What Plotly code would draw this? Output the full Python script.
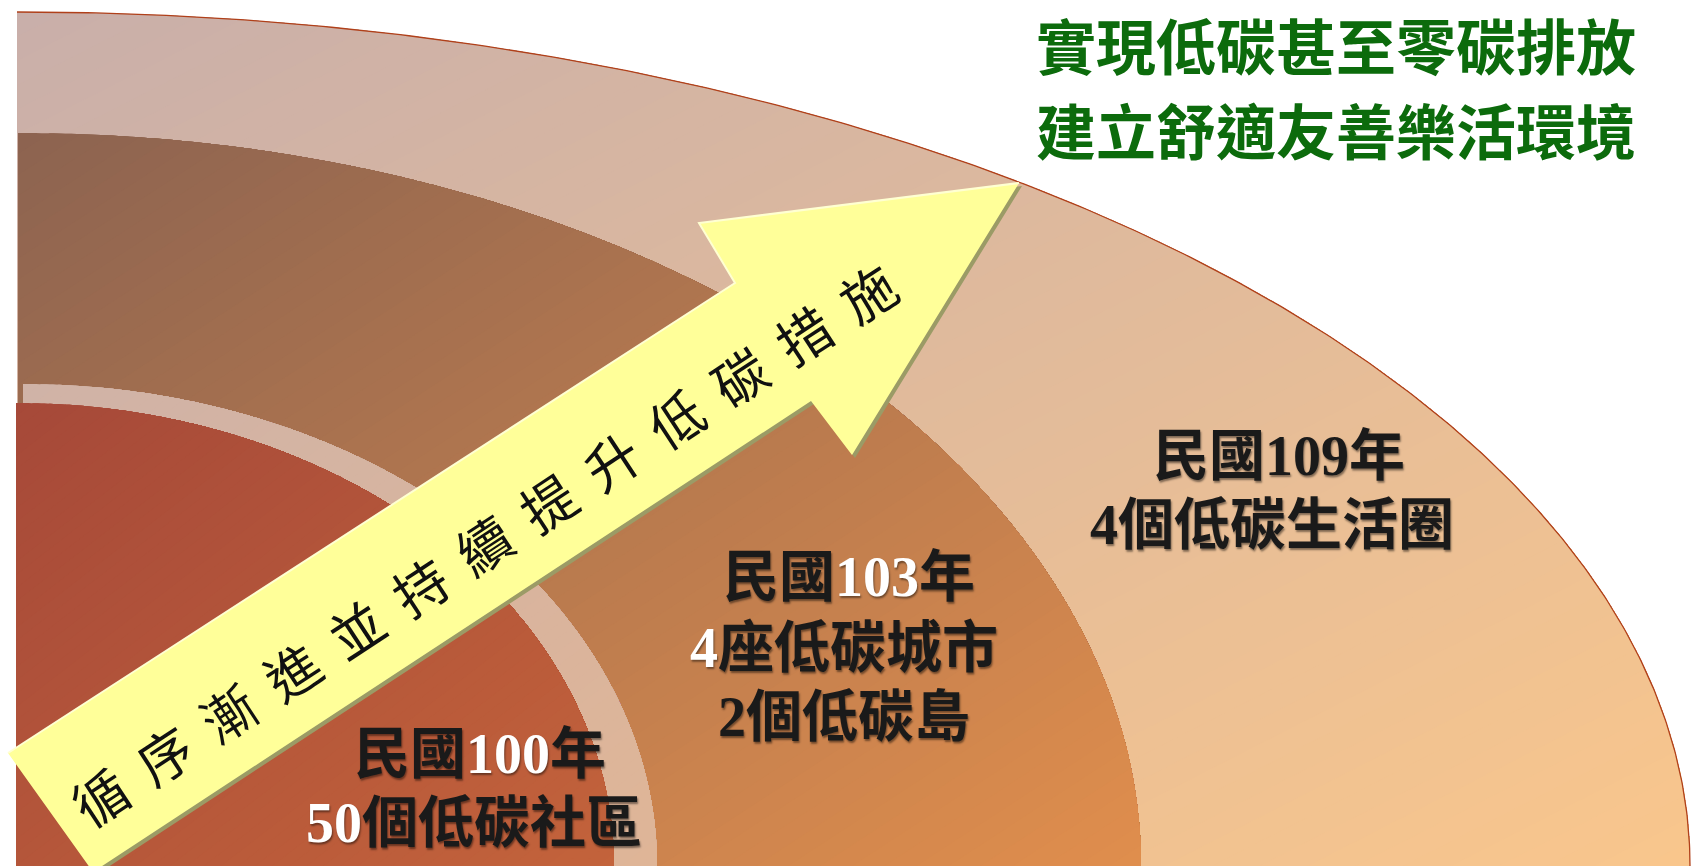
import numpy as np
import plotly.graph_objects as go

# ---------------- data ----------------
stage_years = ["100", "103", "109"]
stage_line1 = ["民國<span style='color:#ffffff'>100</span>年",
               "民國<span style='color:#ffffff'>103</span>年",
               "民國109年"]
stage_line2 = ["<span style='color:#ffffff'>50</span>個低碳社區",
               "<span style='color:#ffffff'>4</span>座低碳城市",
               "4個低碳生活圈"]
stage_line3 = ["", "2個低碳島", ""]
arrow_text = "循序漸進並持續提升低碳措施"
goal_lines = ["實現低碳甚至零碳排放", "建立舒適友善樂活環境"]

# ring geometry / colours (layout & style)
ring_cx = [17, 18, 23, 16]
ring_a = [1673, 1123, 634, 598]
ring_b = [854, 733, 482, 463]
ring_c0 = ["#c9afaa", "#8c6350", "#d0b3a7", "#a64939"]
ring_c1 = ["#f9c68c", "#e08e4d", "#dfb597", "#c3633b"]

W, H = 1692, 866
BASE = 866
fig = go.Figure()


def hex2rgb(h):
    h = h.lstrip("#")
    return np.array([int(h[i:i + 2], 16) for i in (0, 2, 4)], dtype=float)


def clip(poly, f):
    out = []
    n = len(poly)
    for i in range(n):
        P, Q = poly[i], poly[(i + 1) % n]
        fp, fq = f(P), f(Q)
        if fp >= 0:
            out.append(P)
        if (fp >= 0) != (fq >= 0):
            s = fp / (fp - fq)
            out.append(P + s * (Q - P))
    return out


N = 70
for cx, a, b, c0, c1 in zip(ring_cx, ring_a, ring_b, ring_c0, ring_c1):
    th = np.linspace(np.pi / 2, 0, 300)
    pts = [np.array([cx + a * np.cos(t), BASE - b * np.sin(t)]) for t in th]
    pts += [np.array([cx + a, BASE + 20.0]), np.array([cx, BASE + 20.0])]
    x0, y0 = cx, BASE - b
    rgb0, rgb1 = hex2rgb(c0), hex2rgb(c1)
    for k in range(N):
        tk = k / N
        f = lambda p, tk=tk: ((p[0] - x0) / a + (p[1] - y0) / b) / 2 - tk
        poly = pts if k == 0 else clip(pts, f)
        if len(poly) < 3:
            continue
        tm = min(1.0, tk + 0.5 / N)
        col = rgb0 + (rgb1 - rgb0) * tm
        xs = [p[0] for p in poly] + [poly[0][0]]
        ys = [p[1] for p in poly] + [poly[0][1]]
        fig.add_trace(go.Scatter(x=xs, y=ys, fill="toself", mode="none",
                                 fillcolor="rgb(%d,%d,%d)" % tuple(col.round()),
                                 hoverinfo="skip", showlegend=False))
    if a == ring_a[0]:
        fig.add_trace(go.Scatter(x=[cx + a * np.cos(t) for t in th],
                                 y=[BASE - b * np.sin(t) for t in th],
                                 mode="lines", line=dict(color="#b0401a", width=1.3),
                                 hoverinfo="skip", showlegend=False))

# ---------------- arrow ----------------
arrow = np.array([[8, 753], [735, 283], [699, 223], [1019, 183],
                  [852, 455], [811, 401], [93, 872]], dtype=float)
sh = arrow + np.array([3, 3])
fig.add_trace(go.Scatter(x=list(sh[:, 0]) + [sh[0, 0]], y=list(sh[:, 1]) + [sh[0, 1]],
                         fill="toself", mode="none", fillcolor="#9b9b66",
                         hoverinfo="skip", showlegend=False))
fig.add_trace(go.Scatter(x=list(arrow[:, 0]) + [arrow[0, 0]], y=list(arrow[:, 1]) + [arrow[0, 1]],
                         fill="toself", mode="none", fillcolor="#ffff99",
                         hoverinfo="skip", showlegend=False))
hl = arrow[[0, 1, 2, 3]]
fig.add_trace(go.Scatter(x=hl[:, 0], y=hl[:, 1], mode="lines",
                         line=dict(color="#ffffd2", width=2),
                         hoverinfo="skip", showlegend=False))

ann = []
ann.append(dict(x=483, y=543, text="\u2005\u2006".join(arrow_text), textangle=-33.3,
                font=dict(family="Noto Sans CJK TC", size=54, color="#111111"),
                showarrow=False, xanchor="center", yanchor="middle"))

ring_font = dict(family="Liberation Serif, Noto Sans CJK TC", size=56, color="#1a1a1a",
                 weight="bold", shadow="1px 2px 2px rgba(0,0,0,0.45)")
stage_pos = [(480, 754, 474, 823, None, None),
             (849, 577, 844, 648, 844, 717),
             (1279, 456, 1272, 525, None, None)]
for i in range(3):
    x1, y1, x2, y2, x3, y3 = stage_pos[i]
    ann.append(dict(x=x1, y=y1, text=stage_line1[i], font=ring_font, showarrow=False,
                    xanchor="center", yanchor="middle"))
    ann.append(dict(x=x2, y=y2, text=stage_line2[i], font=ring_font, showarrow=False,
                    xanchor="center", yanchor="middle"))
    if stage_line3[i]:
        ann.append(dict(x=x3, y=y3, text=stage_line3[i], font=ring_font, showarrow=False,
                        xanchor="center", yanchor="middle"))

goal_font = dict(family="Noto Sans CJK TC", size=60, color="#0c6b0c", weight="bold")
for txt, yy in zip(goal_lines, [43, 128]):
    ann.append(dict(x=1336, y=yy, text=txt, font=goal_font, showarrow=False,
                    xanchor="center", yanchor="middle"))

for d in ann:
    d.update(xref="x", yref="y")

fig.update_layout(
    width=W, height=H, margin=dict(l=0, r=0, t=0, b=0),
    paper_bgcolor="white", plot_bgcolor="white",
    xaxis=dict(range=[0, W], visible=False, fixedrange=True),
    yaxis=dict(range=[H, 0], visible=False, fixedrange=True),
    annotations=ann, showlegend=False,
)
fig.write_html("out.html")
